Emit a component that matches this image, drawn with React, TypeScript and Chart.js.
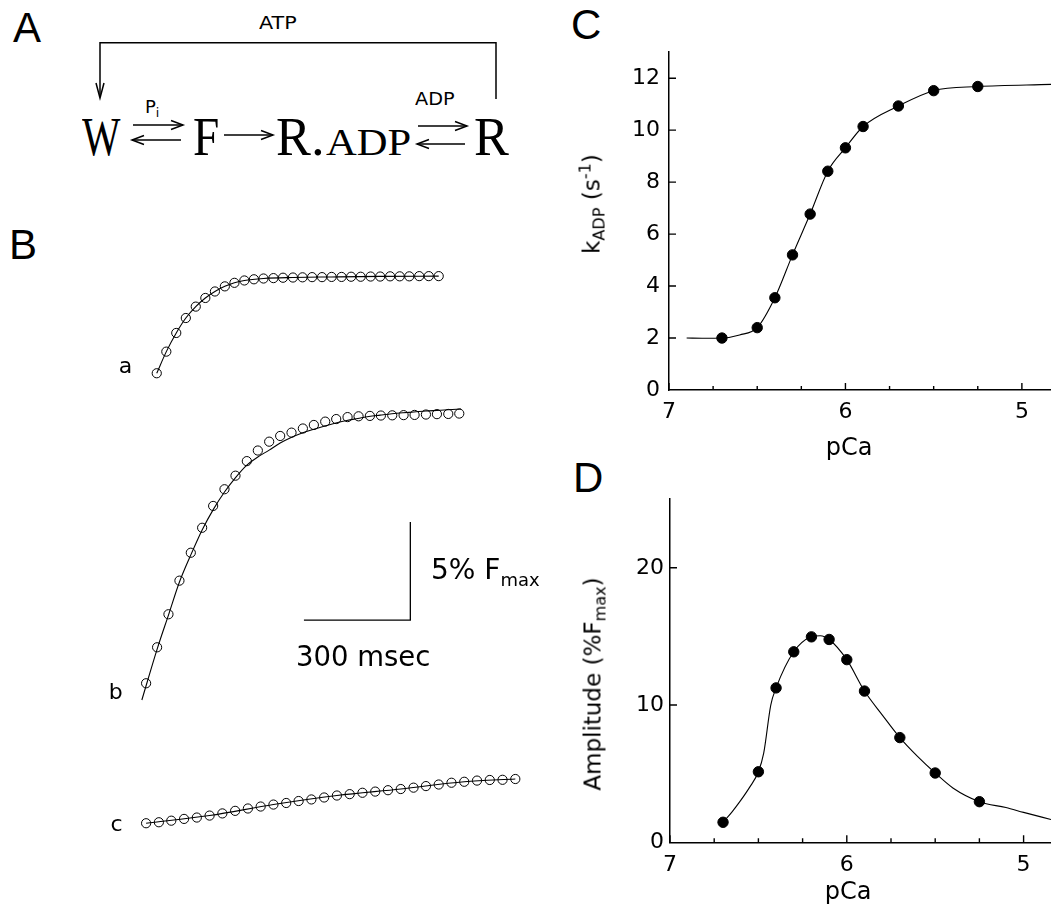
import React, { useEffect, useRef } from 'react';
import { Chart, registerables } from 'chart.js';

Chart.register(...registerables);

const SANS = "'DejaVu Sans', sans-serif";
const HELV = "'Liberation Sans', Arial, sans-serif";
const SERIF = "'Liberation Serif', 'Times New Roman', serif";

// ---------------- Panel B: tension transients (time in ms, force in % Fmax, traces offset) ----------------
const TRACE_A_T = [160, 187, 215, 242, 270, 297, 324, 352, 379, 407, 434, 461, 489, 516, 544, 571, 598, 626, 653, 681, 708, 735, 763, 790, 818, 845, 872, 900, 927, 955];
const TRACE_A_F = [24.76, 25.86, 26.81, 27.57, 28.15, 28.59, 28.92, 29.18, 29.36, 29.48, 29.54, 29.58, 29.6, 29.62, 29.63, 29.64, 29.65, 29.65, 29.66, 29.66, 29.67, 29.67, 29.68, 29.68, 29.69, 29.69, 29.69, 29.7, 29.7, 29.7];
const FIT_A_T = [160, 187, 215, 242, 270, 297, 324, 352, 379, 407, 461, 544, 653, 790, 955];
const FIT_A_F = [24.76, 25.86, 26.81, 27.57, 28.15, 28.59, 28.92, 29.18, 29.36, 29.48, 29.58, 29.63, 29.66, 29.69, 29.7];

const TRACE_B_T = [130, 161, 193, 224, 256, 288, 319, 351, 382, 414, 445, 477, 508, 540, 572, 603, 635, 666, 698, 729, 761, 792, 824, 856, 887, 919, 950, 982, 1013];
const TRACE_B_F = [8.99, 10.82, 12.5, 14.21, 15.63, 16.9, 18.01, 18.86, 19.55, 20.29, 20.83, 21.28, 21.57, 21.74, 21.95, 22.13, 22.3, 22.43, 22.53, 22.57, 22.59, 22.61, 22.62, 22.63, 22.64, 22.66, 22.68, 22.69, 22.71];
const FIT_B_T = [118, 162, 194, 224, 257, 288, 320, 351, 381, 414, 445, 477, 508, 539, 570, 601, 634, 665, 696, 727, 758, 790, 823, 854, 885, 919, 950, 981, 1018];
const FIT_B_F = [8.14, 10.78, 12.51, 14.14, 15.56, 16.79, 17.85, 18.72, 19.43, 20.09, 20.5, 20.85, 21.21, 21.49, 21.72, 21.9, 22.08, 22.23, 22.36, 22.46, 22.56, 22.63, 22.7, 22.75, 22.79, 22.84, 22.87, 22.9, 22.94];

const TRACE_C_T = [130, 166, 201, 237, 273, 309, 345, 381, 417, 453, 489, 525, 560, 596, 632, 668, 704, 740, 776, 812, 848, 884, 919, 955, 991, 1027, 1063, 1099, 1135, 1171];
const TRACE_C_F = [1.87, 1.92, 2.0, 2.09, 2.16, 2.26, 2.37, 2.5, 2.62, 2.72, 2.82, 2.9, 3.0, 3.08, 3.18, 3.28, 3.35, 3.42, 3.48, 3.55, 3.61, 3.68, 3.76, 3.84, 3.93, 3.98, 4.04, 4.07, 4.08, 4.12];
const FIT_C_T = [130, 309, 489, 668, 848, 1027, 1171];
const FIT_C_F = [1.87, 2.26, 2.82, 3.28, 3.61, 3.98, 4.12];

// scale bar: 300 msec horizontal, 5 % Fmax vertical
const SCALE_T = [575, 875, 875];
const SCALE_F = [12.2, 12.2, 17.2];
const B_T_MAX = 1268.8;
const B_F_MAX = 31.03;

// ---------------- Panel C: kADP vs pCa ----------------
const PCA_C = [6.7, 6.5, 6.4, 6.3, 6.2, 6.1, 6.0, 5.9, 5.7, 5.5, 5.25];
const KADP = [2.0, 2.4, 3.55, 5.2, 6.77, 8.42, 9.32, 10.14, 10.93, 11.52, 11.68];
const FIT_KADP_PCA = [6.9, 6.8, 6.7, 6.6, 6.5, 6.4, 6.3, 6.2, 6.1, 6.0, 5.9, 5.7, 5.5, 5.25, 4.835];
const FIT_KADP = [2.0, 1.99, 2.0, 2.12, 2.4, 3.55, 5.2, 6.77, 8.42, 9.32, 10.14, 10.93, 11.52, 11.68, 11.76];
const K_TICKS = [0, 2, 4, 6, 8, 10, 12];

// ---------------- Panel D: amplitude vs pCa ----------------
const PCA_D = [6.7, 6.5, 6.4, 6.3, 6.2, 6.1, 6.0, 5.9, 5.7, 5.5, 5.25];
const AMPLITUDE = [1.46, 5.14, 11.25, 13.88, 14.97, 14.78, 13.31, 11.02, 7.63, 5.05, 2.96];
const FIT_AMP_PCA = [6.7, 6.65, 6.6, 6.55, 6.5, 6.47, 6.43, 6.4, 6.3, 6.2, 6.15, 6.1, 6.0, 5.9, 5.8, 5.7, 5.6, 5.5, 5.4, 5.25, 5.1, 5.0, 4.845];
const FIT_AMP = [1.46, 2.2, 3.05, 4.0, 5.14, 6.5, 10.0, 11.25, 13.88, 14.97, 15.05, 14.78, 13.31, 11.02, 9.29, 7.63, 6.26, 5.05, 3.96, 2.96, 2.53, 2.18, 1.66];
const AMP_TICKS = [0, 10, 20];

const PCA_LABELS = [7, 6, 5];
const PCA_MINOR = [6.75, 6.5, 6.25, 5.75, 5.5, 5.25];

function pts(xs: number[], ys: number[]) {
  return xs.map((x, i) => ({ x, y: ys[i] }));
}

function innerTicks(xMajor: number[], xMinor: number[], yMajor: number[]) {
  return {
    id: 'innerTicks',
    afterDatasetsDraw(chart: any) {
      const { ctx, chartArea: a, scales } = chart;
      ctx.save();
      ctx.strokeStyle = '#000';
      ctx.lineWidth = 1.4;
      ctx.beginPath();
      const xt = (v: number, len: number) => {
        const px = scales.x.getPixelForValue(v);
        ctx.moveTo(px, a.bottom);
        ctx.lineTo(px, a.bottom - len);
      };
      xMajor.forEach((v) => xt(v, 7));
      xMinor.forEach((v) => xt(v, 4));
      yMajor.forEach((v) => {
        if (v === 0) return;
        const py = scales.y.getPixelForValue(v);
        ctx.moveTo(a.left, py);
        ctx.lineTo(a.left + 7, py);
      });
      ctx.stroke();
      ctx.restore();
    },
  };
}

function pcaConfig(p: {
  px: number[]; py: number[]; fx: number[]; fy: number[];
  xMin: number; yMax: number; yTicks: number[];
  padTop: number; yW: number; xH: number; yPad: number; xPad: number;
}) {
  return {
    type: 'scatter',
    data: {
      datasets: [
        {
          data: pts(p.fx, p.fy),
          showLine: true,
          borderColor: '#000',
          borderWidth: 1.1,
          pointRadius: 0,
          cubicInterpolationMode: 'monotone',
          fill: false,
        },
        {
          data: pts(p.px, p.py),
          showLine: false,
          pointRadius: 5.2,
          pointBorderWidth: 1,
          pointBackgroundColor: '#000',
          pointBorderColor: '#000',
        },
      ],
    },
    options: {
      responsive: false,
      animation: false,
      events: [],
      layout: { autoPadding: false, padding: { top: p.padTop, left: 0, right: 0, bottom: 0 } },
      plugins: { legend: { display: false }, tooltip: { enabled: false } },
      scales: {
        x: {
          type: 'linear',
          reverse: true,
          min: p.xMin,
          max: 7,
          grid: { display: false, drawTicks: false },
          border: { display: true, color: '#000', width: 1.5 },
          afterBuildTicks: (s: any) => {
            s.ticks = PCA_LABELS.map((v) => ({ value: v }));
          },
          ticks: {
            padding: p.xPad,
            color: '#000',
            font: { family: SANS, size: 22 },
            maxRotation: 0,
            autoSkip: false,
            callback: (v: any) => String(v),
          },
          afterFit: (s: any) => {
            s.height = p.xH;
          },
        },
        y: {
          type: 'linear',
          min: 0,
          max: p.yMax,
          grid: { display: false, drawTicks: false },
          border: { display: true, color: '#000', width: 1.5 },
          afterBuildTicks: (s: any) => {
            s.ticks = p.yTicks.map((v) => ({ value: v }));
          },
          ticks: {
            padding: p.yPad,
            color: '#000',
            font: { family: SANS, size: 22 },
            autoSkip: false,
            callback: (v: any) => String(v),
          },
          afterFit: (s: any) => {
            s.width = p.yW;
          },
        },
      },
    },
    plugins: [innerTicks(PCA_LABELS, PCA_MINOR, p.yTicks)],
  };
}

function traceLine(t: number[], f: number[]) {
  return {
    data: pts(t, f),
    showLine: true,
    borderColor: '#000',
    borderWidth: 1.1,
    pointRadius: 0,
    cubicInterpolationMode: 'monotone',
    fill: false,
  };
}

function traceCircles(t: number[], f: number[]) {
  return {
    data: pts(t, f),
    showLine: false,
    pointRadius: 4.6,
    pointBorderWidth: 1,
    pointBorderColor: '#000',
    pointBackgroundColor: 'rgba(0,0,0,0)',
  };
}

function bConfig() {
  return {
    type: 'scatter',
    data: {
      datasets: [
        traceLine(FIT_A_T, FIT_A_F),
        traceLine(FIT_B_T, FIT_B_F),
        traceLine(FIT_C_T, FIT_C_F),
        traceCircles(TRACE_A_T, TRACE_A_F),
        traceCircles(TRACE_B_T, TRACE_B_F),
        traceCircles(TRACE_C_T, TRACE_C_F),
        {
          data: pts(SCALE_T, SCALE_F),
          showLine: true,
          tension: 0,
          borderColor: '#000',
          borderWidth: 1.3,
          pointRadius: 0,
          fill: false,
        },
      ],
    },
    options: {
      responsive: false,
      animation: false,
      events: [],
      layout: { autoPadding: false, padding: 0 },
      plugins: { legend: { display: false }, tooltip: { enabled: false } },
      scales: {
        x: { type: 'linear', display: false, min: 0, max: B_T_MAX },
        y: { type: 'linear', display: false, min: 0, max: B_F_MAX },
      },
    },
  };
}

function ChartBox(props: { left: number; top: number; width: number; height: number; make: () => any }) {
  const ref = useRef<HTMLCanvasElement>(null);
  useEffect(() => {
    const chart = new Chart(ref.current as HTMLCanvasElement, props.make());
    return () => chart.destroy();
  }, []);
  return (
    <canvas
      ref={ref}
      width={props.width}
      height={props.height}
      style={{ position: 'absolute', left: props.left, top: props.top, width: props.width, height: props.height }}
    />
  );
}

const ASC: Record<string, number> = { [SANS]: 0.846, [HELV]: 0.8465, [SERIF]: 0.8375 };

function Txt(p: { x: number; base: number; size: number; family?: string; anchor?: 'start' | 'middle'; sx?: number; children: any }) {
  const family = p.family || SANS;
  const sx = p.sx || 1;
  const mid = p.anchor === 'middle';
  return (
    <div
      style={{
        position: 'absolute',
        left: p.x,
        top: p.base - ASC[family] * p.size,
        fontSize: p.size,
        lineHeight: '1',
        fontFamily: family,
        whiteSpace: 'nowrap',
        color: '#000',
        transformOrigin: mid ? 'center' : 'left',
        transform: mid ? `translateX(-50%) scaleX(${sx})` : `scaleX(${sx})`,
      }}
    >
      {p.children}
    </div>
  );
}

function VTxt(p: { cx: number; cy: number; size: number; children: any }) {
  return (
    <div
      style={{
        position: 'absolute',
        left: p.cx,
        top: p.cy,
        fontSize: p.size,
        lineHeight: '1',
        fontFamily: SANS,
        whiteSpace: 'nowrap',
        color: '#000',
        transformOrigin: 'center',
        transform: 'translate(-50%, -50%) rotate(-90deg)',
      }}
    >
      {p.children}
    </div>
  );
}

const Sub = (p: { children: any; size?: string; dy?: string }) => (
  <span style={{ fontSize: p.size || '0.7em', position: 'relative', top: p.dy || '0.3em', lineHeight: 0 }}>{p.children}</span>
);
const Sup = (p: { children: any }) => (
  <span style={{ fontSize: '0.7em', position: 'relative', top: '-0.55em', lineHeight: 0 }}>{p.children}</span>
);

function Scheme() {
  return (
    <>
      <svg width={560} height={200} style={{ position: 'absolute', left: 0, top: 0 }}>
        <g stroke="#000" strokeWidth={1.5} fill="none">
          <polyline points="100,97 100,42.7 496,42.7 496,99" />
          <polyline points="96,83 100,98 104,83" />
          <line x1={133} y1={125} x2={183} y2={125} />
          <polyline points="171,120.5 183,125 171,129.5" />
          <line x1={132} y1={140} x2={181} y2={140} />
          <polyline points="144,135.5 132,140 144,144.5" />
          <line x1={224} y1={135} x2={273} y2={135} />
          <polyline points="261,130.5 273,135 261,139.5" />
          <line x1={418} y1={126} x2={467} y2={126} />
          <polyline points="455,121.5 467,126 455,130.5" />
          <line x1={417} y1={144} x2={465} y2={144} />
          <polyline points="429,139.5 417,144 429,148.5" />
        </g>
      </svg>
      <Txt x={259} base={29.3} size={18} sx={1.15}>ATP</Txt>
      <Txt x={145} base={113} size={18}>
        P<Sub dy="0.3em">i</Sub>
      </Txt>
      <Txt x={415} base={106} size={17.5} sx={1.1}>ADP</Txt>
      <Txt x={82} base={155} size={55} family={SERIF} sx={0.74}>W</Txt>
      <Txt x={192.5} base={155} size={55} family={SERIF} sx={0.86}>F</Txt>
      <Txt x={276} base={155} size={55} family={SERIF} sx={0.95}>R</Txt>
      <Txt x={311} base={155} size={55} family={SERIF}>.</Txt>
      <Txt x={326} base={155} size={38} family={SERIF} sx={1.12}>ADP</Txt>
      <Txt x={473.5} base={155} size={55} family={SERIF} sx={0.95}>R</Txt>
    </>
  );
}

export default function App() {
  useEffect(() => {
    document.body.style.margin = '0';
  }, []);
  return (
    <div style={{ position: 'absolute', left: 0, top: 0, width: 1051, height: 913, overflow: 'hidden', background: '#fff' }}>
      {/* panel letters */}
      <Txt x={13} base={42.8} size={42} family={HELV}>A</Txt>
      <Txt x={9} base={260} size={42} family={HELV}>B</Txt>
      <Txt x={571} base={40} size={42} family={HELV}>C</Txt>
      <Txt x={573} base={493} size={42} family={HELV}>D</Txt>

      <Scheme />

      {/* Panel B */}
      <ChartBox left={100} top={250} width={450} height={610} make={bConfig} />
      <Txt x={118.7} base={373.3} size={22}>a</Txt>
      <Txt x={108.7} base={700} size={22}>b</Txt>
      <Txt x={110.5} base={831.7} size={22}>c</Txt>
      <Txt x={431} base={580} size={28}>
        5% F<Sub size="0.643em" dy="0.36em">max</Sub>
      </Txt>
      <Txt x={296} base={666} size={27.5}>300 msec</Txt>

      {/* Panel C */}
      <ChartBox
        left={590}
        top={30}
        width={461}
        height={410}
        make={() =>
          pcaConfig({
            px: PCA_C, py: KADP, fx: FIT_KADP_PCA, fy: FIT_KADP,
            xMin: 4.835, yMax: 13, yTicks: K_TICKS,
            padTop: 11.2, yW: 79, xH: 50, yPad: 9, xPad: 9,
          })
        }
      />
      <VTxt cx={592} cy={204} size={23}>
        k<Sub>ADP</Sub> (s<Sup>-1</Sup>)
      </VTxt>
      <Txt x={849} base={455} size={24} anchor="middle">pCa</Txt>

      {/* Panel D */}
      <ChartBox
        left={590}
        top={480}
        width={461}
        height={433}
        make={() =>
          pcaConfig({
            px: PCA_D, py: AMPLITUDE, fx: FIT_AMP_PCA, fy: FIT_AMP,
            xMin: 4.845, yMax: 25, yTicks: AMP_TICKS,
            padTop: 10.7, yW: 80, xH: 70.7, yPad: 6, xPad: 10,
          })
        }
      />
      <VTxt cx={593} cy={684} size={23}>
        Amplitude (%F<Sub>max</Sub>)
      </VTxt>
      <Txt x={848} base={899} size={24} anchor="middle">pCa</Txt>
    </div>
  );
}
